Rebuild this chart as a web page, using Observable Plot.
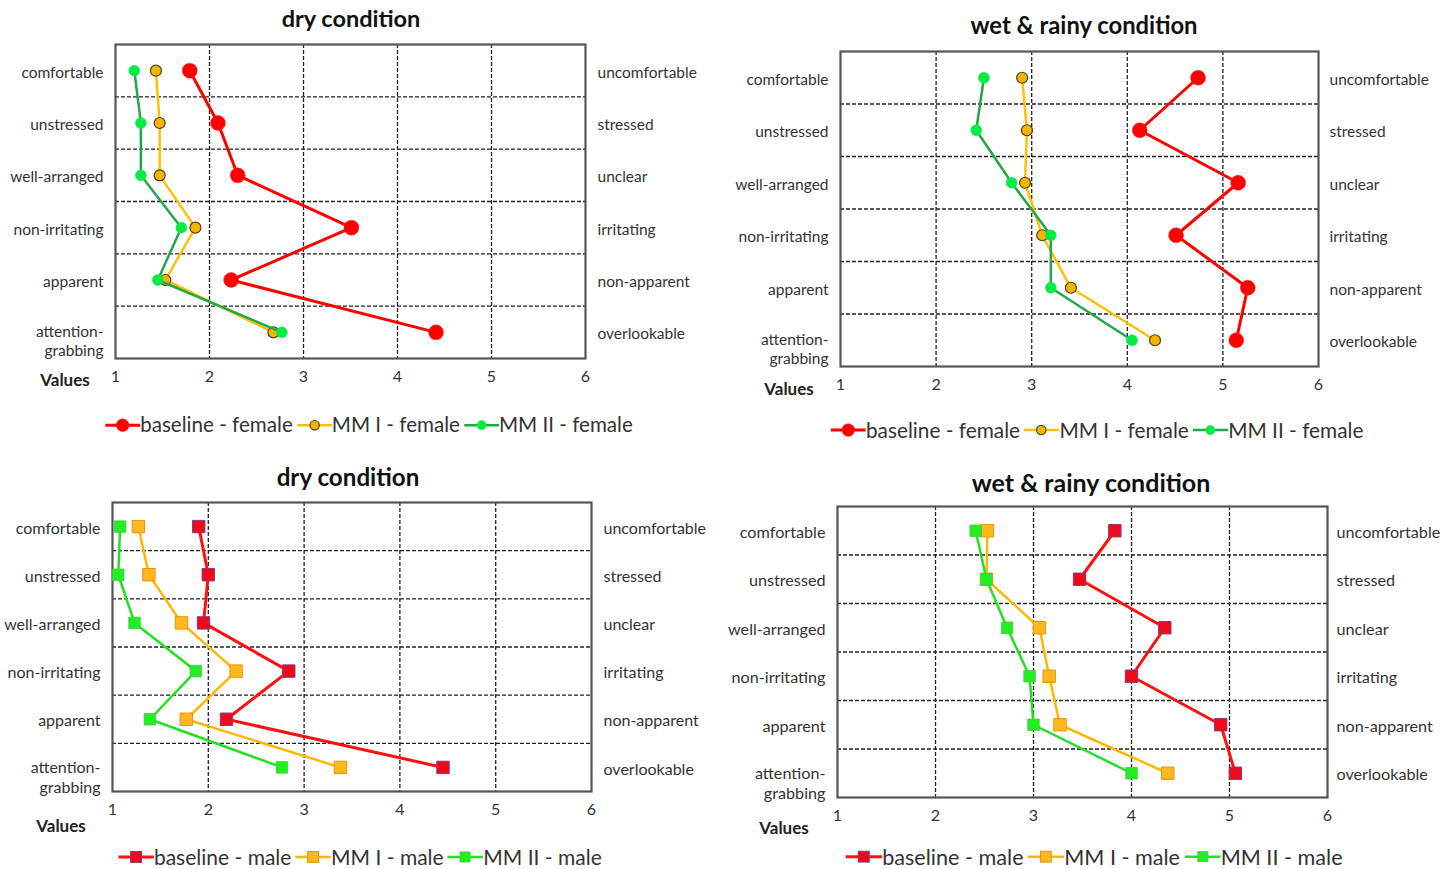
<!DOCTYPE html>
<html>
<head>
<meta charset="utf-8">
<script src="https://cdn.jsdelivr.net/npm/d3@7"></script>
<script src="https://cdn.jsdelivr.net/npm/@observablehq/plot@0.6"></script>
<style>
  html, body { margin: 0; padding: 0; background: #fff; }
  #root { position: relative; width: 1449px; height: 869px; background: #fff; overflow: hidden; font-family: Lato, "Open Sans", sans-serif; color: #333; }
  .abs { position: absolute; white-space: nowrap; transform: translate(-50%, -50%); }
  .title { font-weight: bold; color: #111; }
  .values { font-weight: bold; font-size: 17px; color: #222; }
  .legend { display: flex; align-items: center; color: #333; line-height: 1.05; }
  .legend span { margin-right: 4px; }
  svg.plot { position: absolute; }
</style>
</head>
<body>
<div id="root"></div>
<script>
// ---------- data ----------
const leftLabels = ["comfortable", "unstressed", "well-arranged", "non-irritating", "apparent", "attention-\ngrabbing"];
const rightLabels = ["uncomfortable", "stressed", "unclear", "irritating", "non-apparent", "overlookable"];
const xTicks = [1, 2, 3, 4, 5, 6];

const seriesFemale = ["baseline - female", "MM I - female", "MM II - female"];
const seriesMale = ["baseline - male", "MM I - male", "MM II - male"];

const dryFemaleBaseline = [1.79, 2.09, 2.30, 3.51, 2.23, 4.41];
const dryFemaleMM1      = [1.43, 1.47, 1.47, 1.85, 1.53, 2.68];
const dryFemaleMM2      = [1.20, 1.27, 1.27, 1.70, 1.45, 2.77];

const wetFemaleBaseline = [4.74, 4.13, 5.16, 4.51, 5.26, 5.14];
const wetFemaleMM1      = [2.90, 2.95, 2.93, 3.11, 3.41, 4.29];
const wetFemaleMM2      = [2.50, 2.42, 2.79, 3.20, 3.20, 4.05];

const dryMaleBaseline = [1.90, 2.00, 1.95, 2.84, 2.19, 4.45];
const dryMaleMM1      = [1.27, 1.38, 1.72, 2.29, 1.77, 3.38];
const dryMaleMM2      = [1.08, 1.06, 1.23, 1.87, 1.39, 2.77];

const wetMaleBaseline = [3.83, 3.47, 4.34, 4.00, 4.91, 5.06];
const wetMaleMM1      = [2.53, 2.52, 3.06, 3.16, 3.27, 4.37];
const wetMaleMM2      = [2.41, 2.52, 2.73, 2.96, 3.00, 4.00];

// ---------- styles ----------
const stylesFemale = [
  {symbol: "circle", line: "#ff0000", lw: 3, fill: "#ff0000", stroke: "#ff2a2a", sw: 0.5, r: 7.5},
  {symbol: "circle", line: "#ffc000", lw: 2.5, fill: "#f5b400", stroke: "#4a4020", sw: 1.2, r: 5.5},
  {symbol: "circle", line: "#22a84a", lw: 2.5, fill: "#00ee44", stroke: "#33dd66", sw: 0.5, r: 5.5}
];
const stylesMale = [
  {symbol: "square", line: "#ff1010", lw: 3, fill: "#ee0a1a", stroke: "#8a3a7a", sw: 1, r: 7},
  {symbol: "square", line: "#ffb800", lw: 2.5, fill: "#ffb820", stroke: "#f09000", sw: 1, r: 7},
  {symbol: "square", line: "#22e022", lw: 2.5, fill: "#22ee22", stroke: "#44cc44", sw: 0.8, r: 6.5}
];

const panels = [
  {title: "dry condition", names: seriesFemale, styles: stylesFemale,
   values: [dryFemaleBaseline, dryFemaleMM1, dryFemaleMM2],
   left: 0, top: 40, width: 720, height: 360, ml: 115, mr: 135, mt: 4, mb: 42,
   labelFont: 15.5, titleFont: 23.5, legendFont: 20.6, rightDx: 12,
   titlePos: [351, 18], valuesPos: [65, 379], legendPos: [371, 425]},
  {title: "wet & rainy condition", names: seriesFemale, styles: stylesFemale,
   values: [wetFemaleBaseline, wetFemaleMM1, wetFemaleMM2],
   left: 725, top: 47, width: 724, height: 361, ml: 115, mr: 131, mt: 4, mb: 42,
   labelFont: 15.5, titleFont: 23.8, legendFont: 20.8, rightDx: 11,
   titlePos: [1084, 25], valuesPos: [789, 388], legendPos: [1099, 430]},
  {title: "dry condition", names: seriesMale, styles: stylesMale,
   values: [dryMaleBaseline, dryMaleMM1, dryMaleMM2],
   left: 0, top: 498, width: 720, height: 335, ml: 112, mr: 129, mt: 4, mb: 42,
   labelFont: 16, titleFont: 24.2, legendFont: 21, rightDx: 12,
   titlePos: [348, 476], valuesPos: [61, 825], legendPos: [362, 857]},
  {title: "wet & rainy condition", names: seriesMale, styles: stylesMale,
   values: [wetMaleBaseline, wetMaleMM1, wetMaleMM2],
   left: 722, top: 502, width: 727, height: 337, ml: 115, mr: 122, mt: 4, mb: 42,
   labelFont: 16.2, titleFont: 25, legendFont: 21.6, rightDx: 9,
   titlePos: [1091, 482], valuesPos: [784, 827], legendPos: [1096, 857]}
];

const rowIdx = leftLabels.map((_, i) => i + 1);
const rowBounds = rowIdx.slice(0, -1).map(i => i + 0.5);
const gridX = xTicks.slice(1, -1);

const root = document.getElementById("root");

function placeText(cls, text, pos, size) {
  const d = document.createElement("div");
  d.className = "abs " + cls;
  d.textContent = text;
  d.style.left = pos[0] + "px";
  d.style.top = pos[1] + "px";
  if (size) d.style.fontSize = size + "px";
  root.appendChild(d);
  return d;
}

function swatch(st, scale) {
  const ns = "http://www.w3.org/2000/svg";
  const w = 34 * scale;
  const svg = document.createElementNS(ns, "svg");
  svg.setAttribute("width", w); svg.setAttribute("height", 20);
  const ln = document.createElementNS(ns, "line");
  ln.setAttribute("x1", 0); ln.setAttribute("x2", w); ln.setAttribute("y1", 10); ln.setAttribute("y2", 10);
  ln.setAttribute("stroke", st.line); ln.setAttribute("stroke-width", st.lw);
  svg.appendChild(ln);
  let m;
  if (st.symbol === "circle") {
    m = document.createElementNS(ns, "circle");
    m.setAttribute("cx", w / 2); m.setAttribute("cy", 10); m.setAttribute("r", st.r * 0.85);
  } else {
    m = document.createElementNS(ns, "rect");
    const s = st.r * 1.55;
    m.setAttribute("x", w / 2 - s / 2); m.setAttribute("y", 10 - s / 2);
    m.setAttribute("width", s); m.setAttribute("height", s);
  }
  m.setAttribute("fill", st.fill); m.setAttribute("stroke", st.stroke); m.setAttribute("stroke-width", st.sw);
  svg.appendChild(m);
  return svg;
}

panels.forEach(p => {
  const rows = rowIdx.map(i => ({row: i, left: leftLabels[i - 1], right: rightLabels[i - 1]}));
  const single = rows.filter(d => !d.left.includes("\n"));
  const multi = rows.filter(d => d.left.includes("\n"));
  const marks = [
    Plot.ruleY(rowBounds, {stroke: "#222", strokeWidth: 1.3, strokeDasharray: "4,2"}),
    Plot.ruleX(gridX, {stroke: "#222", strokeWidth: 1.3, strokeDasharray: "4,2"}),
    Plot.frame({stroke: "#555", strokeWidth: 2.2})
  ];
  p.values.forEach((vals, k) => {
    const st = p.styles[k];
    const data = vals.map((v, i) => ({value: v, row: rowIdx[i]}));
    marks.push(Plot.line(data, {x: "value", y: "row", stroke: st.line, strokeWidth: st.lw}));
    marks.push(Plot.dot(data, {x: "value", y: "row", symbol: st.symbol, r: st.r,
      fill: st.fill, stroke: st.stroke, strokeWidth: st.sw}));
  });
  // left (positive pole) labels
  marks.push(Plot.text(single, {y: "row", text: "left", frameAnchor: "left", textAnchor: "end",
    dx: -12, dy: 2, fontSize: p.labelFont, fill: "#333"}));
  marks.push(Plot.text(multi, {y: "row", text: "left", frameAnchor: "left", textAnchor: "end",
    lineAnchor: "top", lineHeight: 1.25, dx: -12, dy: -9, fontSize: p.labelFont, fill: "#333"}));
  // right (negative pole) labels
  marks.push(Plot.text(rows, {y: "row", text: "right", frameAnchor: "right", textAnchor: "start",
    dx: p.rightDx, dy: 2, fontSize: p.labelFont, fill: "#333"}));
  marks.push(Plot.axisX({anchor: "bottom", ticks: xTicks, tickFormat: d => String(d),
    tickSize: 0, tickPadding: 12, fontSize: 16, label: null}));

  const chart = Plot.plot({
    width: p.width, height: p.height,
    marginLeft: p.ml, marginRight: p.mr, marginTop: p.mt, marginBottom: p.mb,
    x: {domain: [1, 6]},
    y: {domain: [0.5, 6.5], reverse: true, axis: null},
    style: {fontFamily: "Lato, 'Open Sans', sans-serif", color: "#333", background: "transparent", overflow: "visible"},
    marks
  });
  chart.classList.add("plot");
  chart.style.left = p.left + "px";
  chart.style.top = p.top + "px";
  root.appendChild(chart);

  placeText("title", p.title, p.titlePos, p.titleFont);
  placeText("values", "Values", p.valuesPos);

  const lg = document.createElement("div");
  lg.className = "abs legend";
  lg.style.left = p.legendPos[0] + "px";
  lg.style.top = p.legendPos[1] + "px";
  lg.style.fontSize = p.legendFont + "px";
  const sc = p.legendFont / 20;
  p.names.forEach((n, k) => {
    lg.appendChild(swatch(p.styles[k], sc));
    const s = document.createElement("span");
    s.textContent = n;
    lg.appendChild(s);
  });
  root.appendChild(lg);
});
</script>
</body>
</html>
